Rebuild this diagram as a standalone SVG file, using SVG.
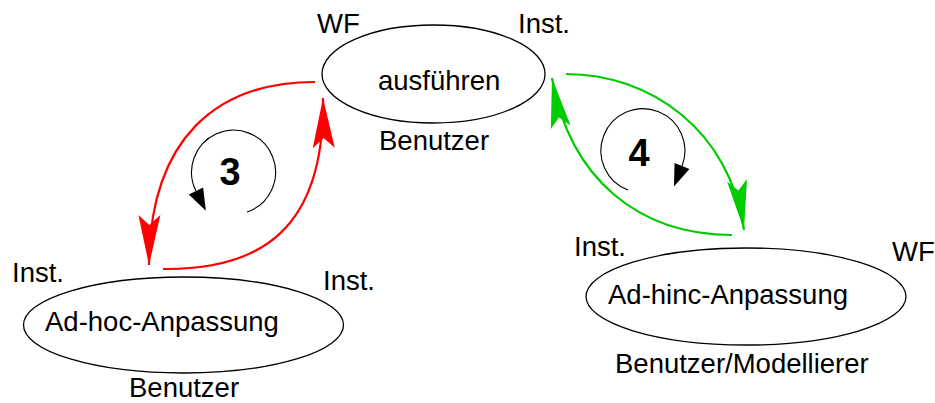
<svg xmlns="http://www.w3.org/2000/svg" width="935" height="403" viewBox="0 0 935 403">
<style>
text{font-family:"Liberation Sans",Arial,sans-serif;font-size:27.5px;fill:#000}
.num{font-size:38px;font-weight:bold;text-anchor:middle}
.node{fill:#fff;stroke:#000;stroke-width:1.3}
.red{fill:none;stroke:#ff0000;stroke-width:2.2}
.green{fill:none;stroke:#00cc00;stroke-width:2.2}
.cyc{fill:none;stroke:#000;stroke-width:1.1}
</style>
<defs>
<marker id="ahR" markerUnits="userSpaceOnUse" markerWidth="60" markerHeight="30" refX="50" refY="0" orient="auto" overflow="visible"><path d="M0,-11 L50,0 L0,11 L10,0 z" fill="#ff0000"/></marker>
<marker id="ahG" markerUnits="userSpaceOnUse" markerWidth="60" markerHeight="30" refX="50" refY="0" orient="auto" overflow="visible"><path d="M0,-10 L50,0 L0,10 L10,0 z" fill="#00cc00"/></marker>
<marker id="ahK" markerUnits="userSpaceOnUse" markerWidth="30" markerHeight="20" refX="0" refY="0" orient="auto" overflow="visible"><path d="M0,-8 L22,0 L0,8 z" fill="#000"/></marker>
</defs>
<g id="node-ausfuehren">
<ellipse class="node" cx="433.5" cy="74" rx="111.5" ry="49"/>
<text x="378" y="90">ausführen</text>
<text x="317" y="33">WF</text>
<text x="518" y="33">Inst.</text>
<text x="379" y="150">Benutzer</text>
</g>
<g id="node-adhoc">
<ellipse class="node" cx="183.5" cy="325" rx="160" ry="48"/>
<text x="45" y="331">Ad-hoc-Anpassung</text>
<text x="12" y="282">Inst.</text>
<text x="323" y="290">Inst.</text>
<text x="129" y="397">Benutzer</text>
</g>
<g id="node-adhinc">
<ellipse class="node" cx="746" cy="296.5" rx="160" ry="48.5"/>
<text x="608" y="304">Ad-hinc-Anpassung</text>
<text x="574" y="256">Inst.</text>
<text x="892" y="261">WF</text>
<text x="615" y="373">Benutzer/Modellierer</text>
</g>
<g id="connectors">
<path class="red" d="M315,82 C215,82 150,140 149,265" marker-end="url(#ahR)"/>
<path class="red" d="M163,269 C260,270 325,230 323,98" marker-end="url(#ahR)"/>
<path class="green" d="M566,74 C650,74 730,130 744,230" marker-end="url(#ahG)"/>
<path class="green" d="M732,235 C640,235 570,180 552,78" marker-end="url(#ahG)"/>
<path class="cyc" d="M247,212 A42,42 0 1 0 196,191" marker-end="url(#ahK)"/>
<path class="cyc" d="M628,190 A42,42 0 1 1 682,166" marker-end="url(#ahK)"/>
</g>
<g id="labels">
<text class="num" x="230" y="185">3</text>
<text class="num" x="639" y="166">4</text>
</g>
</svg>
